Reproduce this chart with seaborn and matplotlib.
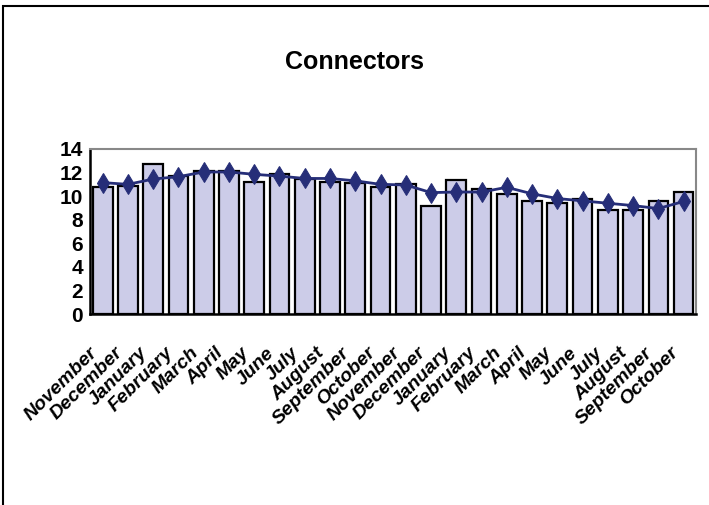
import matplotlib
matplotlib.use("Agg")
import matplotlib.pyplot as plt
import matplotlib.transforms as mtransforms
import seaborn as sns
from matplotlib.patches import Rectangle

# =====================================
# DATA
# =====================================

months = [
    "November", "December", "January", "February", "March", "April",
    "May", "June", "July", "August", "September", "October",
    "November", "December", "January", "February", "March", "April",
    "May", "June", "July", "August", "September", "October",
]

bar_values = [
    10.75, 10.9, 12.7, 11.7, 12.1, 12.1, 11.2, 11.9, 11.45, 11.2, 11.1, 10.75,
    11.0, 9.2, 11.35, 10.6, 10.2, 9.6, 9.4, 9.8, 8.8, 8.8, 9.6, 10.35,
]

line_values = [
    11.15, 11.0, 11.45, 11.65, 12.05, 12.05, 11.85, 11.7, 11.5, 11.5, 11.3, 11.0,
    10.95, 10.3, 10.35, 10.35, 10.75, 10.2, 9.8, 9.6, 9.4, 9.2, 8.95, 9.55,
]

y_ticks = [0, 2, 4, 6, 8, 10, 12, 14]

positions = list(range(len(months)))

# =====================================
# STYLE
# =====================================

sns.set_style("white")
plt.rcParams["font.family"] = ["Liberation Sans", "DejaVu Sans"]
plt.rcParams["text.color"] = "black"
plt.rcParams["xtick.color"] = "black"
plt.rcParams["ytick.color"] = "black"

bar_color = "#CCCCE8"
line_color = "#262E78"

# =====================================
# FIGURE
# =====================================

fig = plt.figure(figsize=(7.09, 5.05), dpi=100)
ax = fig.add_axes([0.127, 0.378, 0.855, 0.327])

sns.barplot(
    x=positions,
    y=bar_values,
    color=bar_color,
    edgecolor="black",
    linewidth=1.6,
    width=0.78,
    saturation=1,
    ax=ax
)

sns.lineplot(
    x=positions,
    y=line_values,
    color=line_color,
    linewidth=2,
    marker="d",
    markersize=10,
    markeredgecolor=line_color,
    ax=ax
)

ax.set_xlim(-0.5, len(months) - 0.5)
ax.set_ylim(0, 14)

ax.set_yticks(y_ticks)
ax.set_yticklabels([str(v) for v in y_ticks], fontsize=15, fontweight="bold")
ax.tick_params(axis="y", direction="inout", length=6, width=1, pad=2)

ax.set_xticks(positions)
ax.set_xticklabels(
    months,
    rotation=45,
    ha="right",
    va="center",
    rotation_mode="anchor",
    fontsize=14,
    fontweight="bold",
    fontstyle="italic"
)
ax.tick_params(axis="x", which="major", length=0, pad=26)

# nudge the labels a little to the left, as in the original
shift = mtransforms.ScaledTranslation(-8 / 100, 0, fig.dpi_scale_trans)
for lab in ax.get_xticklabels():
    lab.set_transform(lab.get_transform() + shift)

ax.set_xticks([p - 0.5 for p in positions] + [len(months) - 0.5], minor=True)
ax.tick_params(axis="x", which="minor", direction="inout", length=20, width=1, color="#555555")

for side in ["left", "bottom"]:
    ax.spines[side].set_color("black")
    ax.spines[side].set_linewidth(1.8)
for side in ["top", "right"]:
    ax.spines[side].set_color("#888888")
    ax.spines[side].set_linewidth(1.5)

ax.set_xlabel("")
ax.set_ylabel("")

fig.text(0.5, 0.877, "Connectors", ha="center", va="center",
         fontsize=18, fontweight="bold")

# outer chart border
fig.patches.append(Rectangle(
    (3 / 709, -0.1), 1.2, 0.1 + (505 - 6) / 505,
    transform=fig.transFigure, fill=False, edgecolor="black", linewidth=1.5
))

fig.savefig("out.png", dpi=100)
